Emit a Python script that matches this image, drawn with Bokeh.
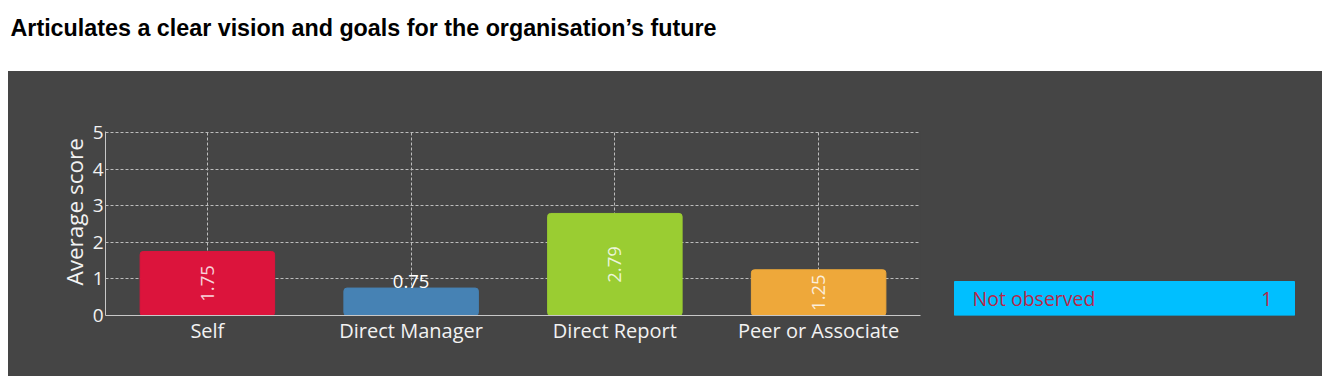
import math
from bokeh.plotting import figure
from bokeh.models import (ColumnDataSource, FactorRange, Range1d, Label, LabelSet,
                          Spacer, Title)
from bokeh.layouts import column, row
from bokeh.core.properties import value
from bokeh.embed import file_html
from bokeh.resources import INLINE

# ---- data ----
title_text = "Articulates a clear vision and goals for the organisation\u2019s future"
categories = ["Self", "Direct Manager", "Direct Report", "Peer or Associate"]
scores = [1.75, 0.75, 2.79, 1.25]
bar_colors = ["#DC143C", "#4682B4", "#9ACD32", "#EEA83A"]
y_ticks = [0, 1, 2, 3, 4, 5]
y_label = "Average score"
not_observed_label = "Not observed"
not_observed_count = 1

PANEL = "#454545"
FONT = "Open Sans"
TXT = "#F2F2F2"


def blank(fig, bg, border):
    fig.grid.visible = False
    fig.outline_line_color = None
    fig.background_fill_color = bg
    fig.border_fill_color = border


# ---- title strip (white) ----
tf = figure(width=1322, height=71, output_backend="svg", toolbar_location=None,
            min_border=0, x_range=Range1d(0, 1322), y_range=Range1d(71, 0),
            x_axis_location=None, y_axis_location=None)
blank(tf, "white", "white")
tf.add_layout(Label(x=10, y=27, text=title_text, text_font="Liberation Sans",
                    text_font_style="bold", text_font_size="23.3px",
                    text_color="black", text_baseline="alphabetic", text_align="left"))

# ---- bar chart ----
label_text = ["%.2f" % v for v in scores]
inside = [v >= 1 for v in scores]
label_y = [v / 2 if ins else v for v, ins in zip(scores, inside)]
label_angle = [math.pi / 2 if ins else 0 for ins in inside]
label_base = ["middle" if ins else "bottom" for ins in inside]
label_alpha = [0.82 if ins else 1.0 for ins in inside]

src = ColumnDataSource(dict(cat=categories, val=scores, color=bar_colors,
                            ly=label_y, lt=label_text, ang=label_angle,
                            base=label_base, la=label_alpha))

p = figure(width=922, height=305, output_backend="svg", toolbar_location=None,
           x_range=FactorRange(*categories, range_padding=0),
           y_range=Range1d(0, 5.03),
           min_border_left=97, min_border_right=10, min_border_top=60, min_border_bottom=61)
p.background_fill_color = PANEL
p.border_fill_color = None          # dark comes from the element's CSS background
p.styles = {"background-color": PANEL}
p.outline_line_color = None

p.vbar(x="cat", top="val", width=0.66, color="color", source=src, border_radius=3)
p.add_layout(LabelSet(x="cat", y="ly", text="lt", angle="ang", text_align="center",
                      text_baseline="base", text_color="#FFFFFF", text_alpha="la",
                      text_font=value(FONT), text_font_size="18.5px", source=src))

p.yaxis.ticker = y_ticks
for ax in (p.xaxis[0], p.yaxis[0]):
    ax.axis_line_color = "#C8C8C8"
    ax.major_tick_line_color = None
    ax.minor_tick_line_color = None
    ax.major_tick_out = 0
    ax.major_tick_in = 0
    ax.minor_tick_out = 0
    ax.minor_tick_in = 0
    ax.major_label_text_color = TXT
    ax.major_label_text_font = FONT
    ax.major_label_text_font_size = "19px"
p.xaxis.major_label_text_font_size = "20px"
p.xaxis.major_label_standoff = 1
p.yaxis.major_label_standoff = 2

# y-axis title, starting a little above the baseline as in the original
p.add_layout(Title(text=y_label, align="left", offset=30, standoff=0,
                   text_font=FONT, text_font_size="22.5px", text_font_style="normal",
                   text_color=TXT), "left")

p.xgrid.grid_line_color = "#BDBDBD"
p.xgrid.grid_line_dash = "3 2"
p.ygrid.grid_line_color = "#BDBDBD"
p.ygrid.grid_line_dash = "3 2"

# ---- "Not observed" box ----
lf = figure(width=392, height=305, output_backend="svg", toolbar_location=None,
            min_border_left=0, min_border_right=0, min_border_top=60, min_border_bottom=61,
            x_range=Range1d(0, 392), y_range=Range1d(0, 184),
            x_axis_location=None, y_axis_location=None)
blank(lf, None, None)
lf.styles = {"background-color": PANEL}
lf.quad(left=[24], right=[364], bottom=[0], top=[34], color="#00BFFF")
lf.add_layout(Label(x=42, y=17, text=not_observed_label, text_font=FONT,
                    text_font_size="19.5px", text_color="#B8284A",
                    text_baseline="middle", text_align="left"))
lf.add_layout(Label(x=342, y=17, text=str(not_observed_count), text_font=FONT,
                    text_font_size="19.5px", text_color="#B8284A",
                    text_baseline="middle", text_align="right"))

layout = column(tf, row(Spacer(width=8, height=305), p, lf, spacing=0), spacing=0)
open("out.html", "w").write(file_html(layout, INLINE))
